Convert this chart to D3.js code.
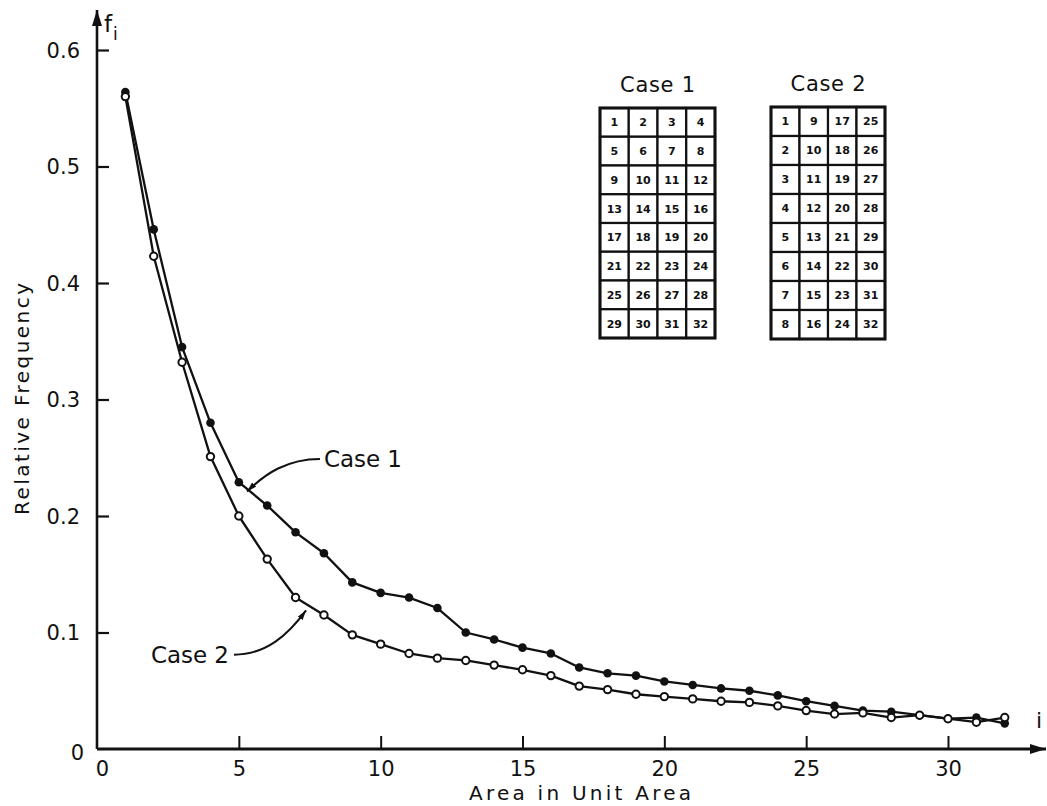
<!DOCTYPE html>
<html>
<head>
<meta charset="utf-8">
<script src="https://cdn.jsdelivr.net/npm/d3@7"></script>
<style>
  html, body { margin: 0; padding: 0; background: #fff; }
  svg { display: block; }
  text { font-family: "DejaVu Sans", sans-serif; fill: #111; }
</style>
</head>
<body>
<svg id="chart" width="1047" height="806"></svg>
<script>
// Area index i (unit areas) and relative frequency f_i for the two numbering schemes
const areas = d3.range(1, 33);
const case1 = [0.564, 0.446, 0.345, 0.280, 0.229, 0.209, 0.186, 0.168, 0.143, 0.134,
               0.130, 0.121, 0.100, 0.094, 0.087, 0.082, 0.070, 0.065, 0.063, 0.058,
               0.055, 0.052, 0.050, 0.046, 0.041, 0.037, 0.033, 0.032, 0.029, 0.026,
               0.027, 0.022];
const case2 = [0.560, 0.423, 0.332, 0.251, 0.200, 0.163, 0.130, 0.115, 0.098, 0.090,
               0.082, 0.078, 0.076, 0.072, 0.068, 0.063, 0.054, 0.051, 0.047, 0.045,
               0.043, 0.041, 0.040, 0.037, 0.033, 0.030, 0.031, 0.027, 0.029, 0.026,
               0.023, 0.027];

const xTicks = [0, 5, 10, 15, 20, 25, 30];
const yTicks = [0, 0.1, 0.2, 0.3, 0.4, 0.5, 0.6];

// Cell numbering of the 4 x 8 grid in each case (row by row)
const case1Layout = [
  [1, 2, 3, 4], [5, 6, 7, 8], [9, 10, 11, 12], [13, 14, 15, 16],
  [17, 18, 19, 20], [21, 22, 23, 24], [25, 26, 27, 28], [29, 30, 31, 32]
];
const case2Layout = [
  [1, 9, 17, 25], [2, 10, 18, 26], [3, 11, 19, 27], [4, 12, 20, 28],
  [5, 13, 21, 29], [6, 14, 22, 30], [7, 15, 23, 31], [8, 16, 24, 32]
];

// Callout labels: text anchor point and arrow tip, in data units
const callouts = [
  { label: "Case 1", from: [7.86, 0.249], to: [5.29, 0.221], side: "right" },
  { label: "Case 2", from: [4.83, 0.081], to: [7.37, 0.119], side: "left" }
];

const svg = d3.select("#chart");
const x = d3.scaleLinear().domain([0, 30]).range([97, 948]);
const y = d3.scaleLinear().domain([0, 0.6]).range([749, 50]);

const defs = svg.append("defs");
defs.append("marker")
  .attr("id", "axisHead").attr("viewBox", "0 0 16 10")
  .attr("refX", 16).attr("refY", 5)
  .attr("markerWidth", 16).attr("markerHeight", 10)
  .attr("markerUnits", "userSpaceOnUse").attr("orient", "auto")
  .append("path").attr("d", "M0,0 L16,5 L0,10 Z").attr("fill", "#111");
defs.append("marker")
  .attr("id", "calloutHead").attr("viewBox", "0 0 10 6")
  .attr("refX", 10).attr("refY", 3)
  .attr("markerWidth", 10).attr("markerHeight", 6)
  .attr("markerUnits", "userSpaceOnUse").attr("orient", "auto")
  .append("path").attr("d", "M0,0 L10,3 L0,6 Z").attr("fill", "#111");

// Axes lines with arrowheads
svg.append("line")
  .attr("x1", x(0)).attr("y1", y(0)).attr("x2", x(0)).attr("y2", 10)
  .attr("stroke", "#111").attr("stroke-width", 2.6)
  .attr("marker-end", "url(#axisHead)");
svg.append("line")
  .attr("x1", x(0)).attr("y1", y(0)).attr("x2", 1046).attr("y2", y(0))
  .attr("stroke", "#111").attr("stroke-width", 2.8)
  .attr("marker-end", "url(#axisHead)");

// Y axis: ticks pointing into the plot
const yAxis = d3.axisLeft(y)
  .tickValues(yTicks)
  .tickSize(-12)
  .tickPadding(17)
  .tickFormat(d => d === 0 ? "0" : d3.format(".1f")(d));
const gy = svg.append("g").attr("transform", `translate(${x(0)},0)`).call(yAxis);
gy.select(".domain").remove();
gy.selectAll(".tick line").attr("stroke", "#111").attr("stroke-width", 2.2)
  .filter(d => d === 0).remove();
gy.selectAll(".tick text")
  .style("font-size", "21px").style("font-family", "DejaVu Sans, sans-serif")
  .attr("fill", "#111")
  .attr("dy", d => d === 0 ? "0.5em" : "0.34em")
  .attr("x", d => d === 0 ? -13 : -17);

// X axis: ticks pointing up into the plot
const xAxis = d3.axisBottom(x)
  .tickValues(xTicks)
  .tickSize(-13)
  .tickPadding(8)
  .tickFormat(d3.format("d"));
const gx = svg.append("g").attr("transform", `translate(0,${y(0)})`).call(xAxis);
gx.select(".domain").remove();
gx.selectAll(".tick line").attr("stroke", "#111").attr("stroke-width", 2)
  .filter(d => d === 0).remove();
gx.selectAll(".tick text")
  .style("font-size", "21px").style("font-family", "DejaVu Sans, sans-serif")
  .attr("fill", "#111")
  .attr("dy", "0.9em")
  .attr("x", d => d === 0 ? 5 : 0);

// Axis symbols and titles
svg.append("text").attr("x", 104).attr("y", 32)
  .style("font-size", "23px").text("f");
svg.append("text").attr("x", 113).attr("y", 40)
  .style("font-size", "17px").text("i");
svg.append("text").attr("x", 1036).attr("y", 728)
  .style("font-size", "22px").text("i");

svg.append("text")
  .attr("x", 580).attr("y", 800)
  .attr("text-anchor", "middle")
  .attr("textLength", 222).attr("lengthAdjust", "spacing")
  .style("font-size", "20px")
  .text("Area in Unit Area");

svg.append("text")
  .attr("transform", "translate(29,399) rotate(-90)")
  .attr("text-anchor", "middle")
  .attr("textLength", 232).attr("lengthAdjust", "spacing")
  .style("font-size", "20px")
  .text("Relative Frequency");

// Curves
const line = d3.line().x((d, i) => x(areas[i])).y(d => y(d));
svg.append("path").datum(case1)
  .attr("d", line).attr("fill", "none")
  .attr("stroke", "#111").attr("stroke-width", 2.3).attr("stroke-linejoin", "round");
svg.append("path").datum(case2)
  .attr("d", line).attr("fill", "none")
  .attr("stroke", "#111").attr("stroke-width", 2.3).attr("stroke-linejoin", "round");

// Markers: filled for Case 1, open for Case 2
svg.append("g").selectAll("circle").data(case1).join("circle")
  .attr("cx", (d, i) => x(areas[i])).attr("cy", d => y(d))
  .attr("r", 4.3).attr("fill", "#111");
svg.append("g").selectAll("circle").data(case2).join("circle")
  .attr("cx", (d, i) => x(areas[i])).attr("cy", d => y(d))
  .attr("r", 3.7).attr("fill", "#fff")
  .attr("stroke", "#111").attr("stroke-width", 2);

// Callouts with curved leaders
callouts.forEach(c => {
  const [fx, fy] = [x(c.from[0]), y(c.from[1])];
  const [tx, ty] = [x(c.to[0]), y(c.to[1])];
  const dx = tx - fx;
  const path = `M${fx},${fy} C${fx + dx * 0.45},${fy} ${tx - dx * 0.25},${ty + (fy - ty) * 0.55} ${tx},${ty}`;
  svg.append("path").attr("d", path)
    .attr("fill", "none").attr("stroke", "#111").attr("stroke-width", 2)
    .attr("marker-end", "url(#calloutHead)");
  svg.append("text")
    .attr("x", c.side === "right" ? fx + 4 : fx - 5)
    .attr("y", fy)
    .attr("dy", "0.36em")
    .attr("text-anchor", c.side === "right" ? "start" : "end")
    .attr("textLength", 78).attr("lengthAdjust", "spacing")
    .style("font-size", "23px")
    .text(c.label);
});

// Numbering grids
function drawGrid(layout, title, left, top, width, height) {
  const nRows = layout.length, nCols = layout[0].length;
  const cx = d3.scaleBand().domain(d3.range(nCols)).range([left, left + width]);
  const cy = d3.scaleBand().domain(d3.range(nRows)).range([top, top + height]);
  const g = svg.append("g");
  g.append("text")
    .attr("x", left + width / 2).attr("y", top - 16)
    .attr("text-anchor", "middle")
    .attr("textLength", 75).attr("lengthAdjust", "spacing")
    .style("font-size", "21px")
    .text(title);
  const cells = layout.flatMap((row, r) => row.map((n, c) => ({ r, c, n })));
  g.selectAll("rect.cell").data(cells).join("rect")
    .attr("class", "cell")
    .attr("x", d => cx(d.c)).attr("y", d => cy(d.r))
    .attr("width", cx.bandwidth()).attr("height", cy.bandwidth())
    .attr("fill", "#fff").attr("stroke", "#111").attr("stroke-width", 2.2);
  g.selectAll("text.num").data(cells).join("text")
    .attr("class", "num")
    .attr("x", d => cx(d.c) + cx.bandwidth() / 2)
    .attr("y", d => cy(d.r) + cy.bandwidth() / 2)
    .attr("dy", "0.36em")
    .attr("text-anchor", "middle")
    .style("font-size", "11px").style("font-weight", "bold")
    .text(d => d.n);
  g.append("rect")
    .attr("x", left).attr("y", top).attr("width", width).attr("height", height)
    .attr("fill", "none").attr("stroke", "#111").attr("stroke-width", 3);
}
drawGrid(case1Layout, "Case 1", 600, 108, 115, 230);
drawGrid(case2Layout, "Case 2", 771, 107, 114, 232);
</script>
</body>
</html>
